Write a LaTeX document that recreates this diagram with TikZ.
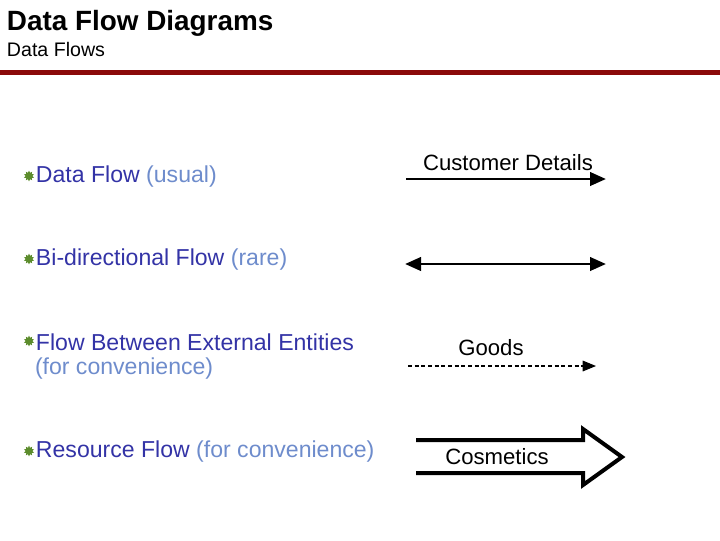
\documentclass[tikz,border=0pt]{standalone}
\usepackage{fontspec}
\setmainfont{Liberation Sans}
\usetikzlibrary{shapes.geometric,arrows.meta}
\definecolor{titlered}{HTML}{8B0A0A}
\definecolor{darkblue}{HTML}{3333A6}
\definecolor{lightblue}{HTML}{6E8CCC}
\definecolor{bulletgreen}{HTML}{5C8C2C}
\tikzset{
  every node/.style={inner sep=0pt, outer sep=0pt},
  bullettext/.style={anchor=west, font=\fontsize{17.3}{20}\selectfont, text=darkblue, align=left},
  flowlabel/.style={font=\fontsize{16.6}{20}\selectfont, text=black},
  bulletmark/.style={star, star points=10, star point ratio=1.6, fill=bulletgreen, minimum size=8pt, inner sep=0pt},
  flowline/.style={line width=2.2pt, -{Triangle[length=12pt,width=10pt]}},
  biline/.style={line width=2.2pt, {Triangle[length=12pt,width=10pt]}-{Triangle[length=12pt,width=10pt]}},
  dashline/.style={line width=0.8pt, dash pattern=on 3pt off 2pt, -{Triangle[length=10pt,width=8pt]}},
  blockarrow/.style={line width=3pt, line join=miter},
}
\begin{document}
\begin{tikzpicture}[x=0.75pt,y=-0.75pt]
\useasboundingbox (0,0) rectangle (720,540);
% title
\node[anchor=base west, font=\fontsize{20.9}{24}\selectfont\bfseries] (title) at (7,30) {Data Flow Diagrams};
\node[anchor=base west, font=\fontsize{14.7}{17}\selectfont] (subtitle) at (7,56) {Data Flows};
\fill[titlered] (0,70) rectangle (720,74.5);
% bullets
\node[bulletmark] (b1) at (29,176) {};
\node[bullettext] (t1) at (36,177) {Data Flow \textcolor{lightblue}{(usual)}};
\node[bulletmark] (b2) at (29,259) {};
\node[bullettext] (t2) at (36,260) {Bi-directional Flow \textcolor{lightblue}{(rare)}};
\node[bulletmark] (b3) at (29,341) {};
\node[bullettext] (t3) at (36,342) {Flow Between External Entities};
\node[bullettext] (t3b) at (35,369) {\textcolor{lightblue}{(for convenience)}};
\node[bulletmark] (b4) at (29,451) {};
\node[bullettext] (t4) at (36,452) {Resource Flow \textcolor{lightblue}{(for convenience)}};
% data flow
\node[flowlabel] (l1) at (508,163) {Customer Details};
\coordinate (a1s) at (406,179);
\coordinate (a1e) at (606,179);
\draw[flowline] (a1s) -- (a1e);
% bi-directional
\coordinate (a2s) at (405,264);
\coordinate (a2e) at (606,264);
\draw[biline] (a2s) -- (a2e);
% goods
\node[flowlabel] (l3) at (491,348) {Goods};
\coordinate (a3s) at (408,366);
\coordinate (a3e) at (596,366);
\draw[dashline] (a3s) -- (a3e);
% resource flow
\draw[blockarrow] (416,440) -- (583,440) -- (583,429) -- (622,457) -- (583,485) -- (583,473) -- (416,473);
\node[flowlabel] (l4) at (497,457) {Cosmetics};
\end{tikzpicture}
\end{document}
